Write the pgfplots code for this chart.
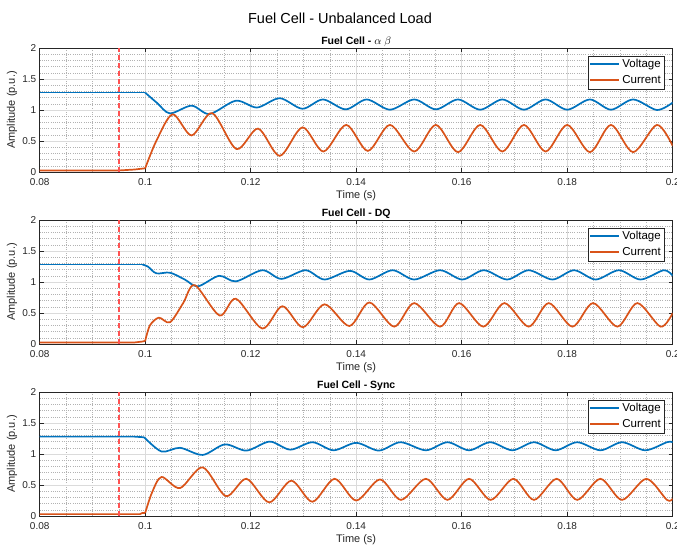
\documentclass[border=0pt]{standalone}
\usepackage{fontspec}
\setmainfont{Liberation Sans}
\usepackage{pgfplots}
\pgfplotsset{compat=1.18}
\definecolor{mblue}{rgb}{0,0.447,0.741}
\definecolor{morange}{rgb}{0.85,0.325,0.098}
\definecolor{mred}{rgb}{1,0.32,0.32}
\definecolor{axgray}{rgb}{0.15,0.15,0.15}
\pgfplotsset{
 fcaxis/.style={
  scale only axis, width=633pt, height=124pt,
  xmin=0.08, xmax=0.2, ymin=0, ymax=2,
  xtick={0.08,0.1,0.12,0.14,0.16,0.18,0.2},
  xticklabels={0.08,0.1,0.12,0.14,0.16,0.18,0.2},
  ytick={0,0.5,1,1.5,2},
  yticklabels={0,0.5,1,1.5,2},
  minor x tick num=3, minor y tick num=4,
  grid=both,
  major grid style={color=black!14, line width=0.7pt},
  minor grid style={color=black!30, line width=0.4pt, dash pattern=on 0.6pt off 1.6pt},
  tick align=inside, major tick length=4pt, minor tick length=0pt,
  axis line style={axgray, line width=0.6pt},
  every tick/.style={axgray, line width=0.6pt},
  xticklabel style={font=\fontsize{10}{12}\selectfont, text=axgray, yshift=-3pt},
  yticklabel style={font=\fontsize{10}{12}\selectfont, text=axgray},
  xlabel={Time (s)}, ylabel={Amplitude (p.u.)},
  xlabel style={font=\fontsize{11}{13}\selectfont, text=axgray, at={(axis description cs:0.5,0)}, anchor=center, yshift=-24pt},
  ylabel style={font=\fontsize{11}{13}\selectfont, text=axgray, at={(axis description cs:-0.0438,0.5)}, anchor=center},
  title style={font=\fontsize{10.5}{12}\selectfont\bfseries, text=black, at={(axis description cs:0.5,1)}, anchor=base, yshift=-2pt},
  legend style={at={(axis description cs:0.987,0.938)}, anchor=north east, font=\fontsize{11.5}{13}\selectfont, draw=axgray, inner xsep=1.5pt, inner ysep=1.5pt, row sep=2.5pt},
  legend cell align=left,
  legend image code/.code={\draw[##1, line width=2pt] (0pt,0pt) -- (29pt,0pt);},
 },
 vline/.style={mblue, line width=1.7pt},
 cline/.style={morange, line width=1.7pt},
 dline/.style={mred, line width=1.7pt, dash pattern=on 5pt off 3pt, forget plot},
}
\begin{document}
\begin{tikzpicture}
\useasboundingbox (0pt,0pt) rectangle (677pt,-546pt);
\node[font=\fontsize{14.5}{17}\selectfont, text=black] at (340pt,-18pt) {Fuel Cell - Unbalanced Load};

% ---------------- Panel 1 : alpha beta
\begin{axis}[fcaxis, at={(39.7pt,-172pt)}, anchor=south west,
  title={Fuel Cell - $\alpha\ \beta$}]
\addplot[vline, forget plot] coordinates {(0.08,1.28) (0.1,1.28)};
\addplot[vline, smooth] coordinates {
(0.1,1.28) (0.1023,1.11) (0.1047,0.945) (0.1088,1.07) (0.1122,0.935) (0.1172,1.15)
(0.1212,1.04) (0.1255,1.19) (0.1298,1.02) (0.1337,1.17) (0.1380,1.01) (0.1420,1.17)
(0.1464,1.005) (0.1510,1.17) (0.1551,1.01) (0.1593,1.17) (0.1635,1.005) (0.1677,1.17)
(0.1718,1.005) (0.1759,1.17) (0.1800,1.005) (0.1843,1.17) (0.1883,1.005) (0.1925,1.17)
(0.1970,1.0) (0.2000,1.12)};
\addlegendentry{Voltage}
\addplot[cline, forget plot] coordinates {(0.08,0.025) (0.095,0.025) (0.098,0.04) (0.1,0.06)};
\addplot[cline, smooth] coordinates {
(0.1,0.06) (0.1021,0.5) (0.1052,0.93) (0.1088,0.59) (0.1127,0.95) (0.1173,0.37)
(0.1214,0.70) (0.1255,0.26) (0.1298,0.72) (0.1338,0.33) (0.1381,0.76) (0.1422,0.34)
(0.1464,0.76) (0.1510,0.33) (0.1551,0.76) (0.1593,0.32) (0.1635,0.76) (0.1677,0.33)
(0.1718,0.76) (0.1759,0.33) (0.1800,0.76) (0.1843,0.32) (0.1883,0.76) (0.1925,0.32)
(0.1970,0.76) (0.2000,0.42)};
\addlegendentry{Current}
\addplot[dline] coordinates {(0.095,0) (0.095,2)};
\end{axis}

% ---------------- Panel 2 : DQ
\begin{axis}[fcaxis, at={(39.7pt,-344pt)}, anchor=south west,
  title={Fuel Cell - DQ}]
\addplot[vline, forget plot] coordinates {(0.08,1.28) (0.0995,1.28)};
\addplot[vline, smooth] coordinates {
(0.0995,1.28) (0.1005,1.25) (0.1021,1.14) (0.1047,1.15) (0.1075,1.04) (0.1100,0.93)
(0.1140,1.10) (0.1172,1.01) (0.1222,1.19) (0.1258,1.05) (0.1304,1.19) (0.1340,1.04)
(0.1388,1.18) (0.1425,1.04) (0.1469,1.19) (0.1510,1.04) (0.1559,1.19) (0.1601,1.04)
(0.1642,1.19) (0.1686,1.04) (0.1727,1.19) (0.1772,1.04) (0.1813,1.19) (0.1854,1.04)
(0.1898,1.19) (0.1939,1.04) (0.1983,1.19) (0.2000,1.10)};
\addlegendentry{Voltage}
\addplot[cline, forget plot] coordinates {(0.08,0.025) (0.098,0.025) (0.0995,0.04) (0.1,0.05)};
\addplot[cline, smooth] coordinates {
(0.1,0.05) (0.1009,0.30) (0.1026,0.425) (0.1047,0.35) (0.1072,0.66) (0.1094,0.95)
(0.1141,0.46) (0.1172,0.73) (0.1222,0.25) (0.1260,0.61) (0.1299,0.27) (0.1340,0.64)
(0.1387,0.29) (0.1425,0.67) (0.1472,0.28) (0.1510,0.66) (0.1559,0.28) (0.1595,0.66)
(0.1641,0.28) (0.1681,0.66) (0.1727,0.28) (0.1765,0.66) (0.1810,0.28) (0.1849,0.66)
(0.1895,0.28) (0.1933,0.66) (0.1977,0.28) (0.2000,0.50)};
\addlegendentry{Current}
\addplot[dline] coordinates {(0.095,0) (0.095,2)};
\end{axis}

% ---------------- Panel 3 : Sync
\begin{axis}[fcaxis, at={(39.7pt,-516pt)}, anchor=south west,
  title={Fuel Cell - Sync}]
\addplot[vline, forget plot] coordinates {(0.08,1.28) (0.098,1.28) (0.0998,1.27)};
\addplot[vline, smooth] coordinates {
(0.0998,1.27) (0.1031,1.04) (0.1066,1.10) (0.1109,0.985) (0.1151,1.155) (0.1192,1.055)
(0.1236,1.20) (0.1275,1.07) (0.1317,1.19) (0.1357,1.06) (0.1400,1.18) (0.1443,1.055)
(0.1484,1.19) (0.1532,1.06) (0.1573,1.19) (0.1614,1.06) (0.1654,1.19) (0.1696,1.06)
(0.1737,1.19) (0.1778,1.06) (0.1819,1.19) (0.1863,1.06) (0.1904,1.19) (0.1948,1.06)
(0.1989,1.19) (0.2000,1.19)};
\addlegendentry{Voltage}
\addplot[cline, forget plot] coordinates {(0.08,0.03) (0.099,0.03) (0.0995,0.05) (0.1,0.05)};
\addplot[cline, smooth] coordinates {
(0.1,0.05) (0.1013,0.38) (0.1031,0.63) (0.1066,0.45) (0.1109,0.785) (0.1153,0.32)
(0.1192,0.60) (0.1235,0.22) (0.1277,0.57) (0.1317,0.23) (0.1359,0.60) (0.1400,0.25)
(0.1445,0.59) (0.1485,0.26) (0.1532,0.60) (0.1573,0.26) (0.1614,0.60) (0.1655,0.26)
(0.1698,0.60) (0.1737,0.26) (0.1780,0.60) (0.1819,0.26) (0.1863,0.60) (0.1904,0.26)
(0.1950,0.60) (0.1989,0.26) (0.2000,0.28)};
\addlegendentry{Current}
\addplot[dline] coordinates {(0.095,0) (0.095,2)};
\end{axis}
\end{tikzpicture}
\end{document}
